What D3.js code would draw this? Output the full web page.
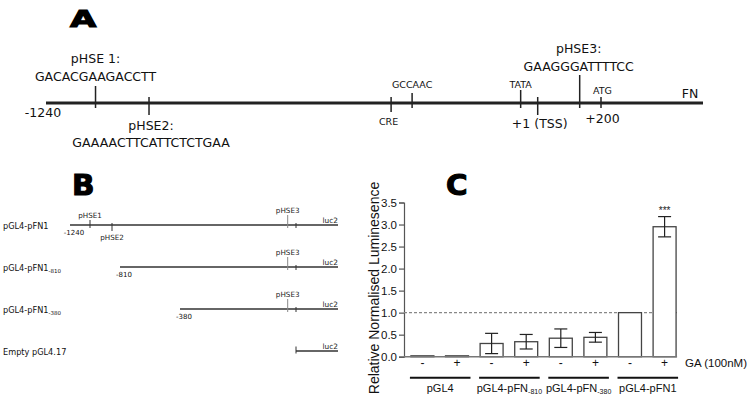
<!DOCTYPE html>
<html><head><meta charset="utf-8">
<script src="https://cdn.jsdelivr.net/npm/d3@7"></script>
<style>body{margin:0;background:#fff} svg{display:block}</style>
</head><body>
<svg id="fig" width="750" height="402"></svg>
<script>
// ---------------- Panel A data (bp relative to TSS) ----------------
const promoterStart = -1240;
const promoterEnd = 520;
const elementNames = ["pHSE1","pHSE2","CRE","GCCAAC","TATA","TSS","pHSE3","ATG"];
const elementPositions = [-1115, -980, -369, -316, -42, 1, 133, 200];
const elementLabelsAbove = [["pHSE 1:","GACACGAAGACCTT"], [], [], ["GCCAAC"], ["TATA"], [], ["pHSE3:","GAAGGGATTTTCC"], ["ATG"]];
const elementLabelsBelow = [[], ["pHSE2:","GAAAACTTCATTCTCTGAA"], ["CRE"], [], [], ["+1 (TSS)"], [], ["+200"]];

// ---------------- Panel B data ----------------
const constructNames = ["pGL4-pFN1","pGL4-pFN1","pGL4-pFN1","Empty pGL4.17"];
const constructSubscripts = ["", "-810", "-380", ""];
const constructStarts = [-1240, -810, -380, 200];
const constructStartLabels = ["-1240","-810","-380",""];
const hseNames = ["pHSE1","pHSE2","pHSE3"];
const hsePositions = [-1115, -980, 133];
const junctionPosition = 200;
const luc2End = 330;

// ---------------- Panel C data ----------------
const cGroups = ["pGL4","pGL4-pFN-810","pGL4-pFN-380","pGL4-pFN1"];
const gaTreatment = ["-","+"];
const meanLum = [0.02, 0.02, 0.30, 0.34, 0.42, 0.44, 1.00, 2.95];
const semLum  = [0, 0, 0.23, 0.165, 0.21, 0.11, 0, 0.23];
const yTicks = [0, 0.5, 1.0, 1.5, 2.0, 2.5, 3.0, 3.5];
const referenceLevel = 1.0;

const svg = d3.select("#fig");
const SANS = "DejaVu Sans";
const ARIAL = "Liberation Sans, Arial, sans-serif";

// Panel letters
function panelLetter(txt, x, y, size, sx) {
  svg.append("text").attr("transform", `translate(${x},${y}) scale(${sx},1)`)
    .attr("font-family", SANS).attr("font-weight", "bold").attr("font-size", size)
    .attr("stroke", "#000").attr("stroke-width", 1.1).attr("fill", "#000").text(txt);
}
panelLetter("A", 70, 27, 23, 1.48);
panelLetter("B", 72, 195, 29, 1.02);
panelLetter("C", 446, 195, 28, 1.05);

// ================= Panel A =================
const ax = d3.scaleLinear().domain([promoterStart, 1, 200, promoterEnd]).range([46, 537.7, 601, 703]);
const lineY = 103;
const aStyle = {
  pHSE1:  {up:17, down:5,  fa:12.5, aAbove:[-40,-22], dx:0},
  pHSE2:  {up:6,  down:12, fb:12.5, aBelow:[27,44], dx:2},
  CRE:    {up:6,  down:9,  fb:9.5,  aBelow:[22], dx:-2.5},
  GCCAAC: {up:10, down:5,  fa:9.5,  aAbove:[-15], dx:0},
  TATA:   {up:13, down:5,  fa:9.5,  aAbove:[-15], dx:0},
  TSS:    {up:6,  down:12, fb:12.5, aBelow:[25], dx:2},
  pHSE3:  {up:28, down:5,  fa:12.5, aAbove:[-50,-32], dx:-1},
  ATG:    {up:6,  down:5,  fa:9.5,  fb:12.5, aAbove:[-9], aBelow:[20], dx:1.5}
};
const gA = svg.append("g");
gA.append("line").attr("x1", ax(promoterStart)).attr("x2", ax(promoterEnd))
  .attr("y1", lineY).attr("y2", lineY).attr("stroke", "#222").attr("stroke-width", 3);
elementNames.forEach((n, i) => {
  const s = aStyle[n], x = ax(elementPositions[i]);
  gA.append("line").attr("x1", x).attr("x2", x).attr("y1", lineY - s.up).attr("y2", lineY + s.down)
    .attr("stroke", "#222").attr("stroke-width", 1.5);
  elementLabelsAbove[i].forEach((t, k) => {
    gA.append("text").attr("x", x + s.dx).attr("y", lineY + s.aAbove[k]).attr("text-anchor", "middle")
      .attr("font-family", SANS).attr("font-size", s.fa).attr("fill", "#111").text(t);
  });
  elementLabelsBelow[i].forEach((t, k) => {
    gA.append("text").attr("x", x + s.dx).attr("y", lineY + s.aBelow[k]).attr("text-anchor", "middle")
      .attr("font-family", SANS).attr("font-size", s.fb).attr("fill", "#111").text(t);
  });
});
gA.append("text").attr("x", ax(promoterStart) - 3).attr("y", 117).attr("text-anchor", "middle")
  .attr("font-family", SANS).attr("font-size", 12.5).attr("fill", "#111").text(String(promoterStart));
gA.append("text").attr("x", 690).attr("y", 98).attr("text-anchor", "middle")
  .attr("font-family", SANS).attr("font-size", 12.5).attr("fill", "#111").text("FN");

// ================= Panel B =================
const bx = d3.scaleLinear()
  .domain([-1240, hsePositions[0], hsePositions[1], -810, -380, hsePositions[2], junctionPosition, luc2End])
  .range([70, 90, 112, 120, 180, 287.7, 296, 338]);
const by = d3.scalePoint().domain(d3.range(constructNames.length)).range([225, 351]);
const gB = svg.append("g").attr("font-family", SANS);
constructNames.forEach((name, i) => {
  const y = by(i);
  const lab = gB.append("text").attr("x", 3).attr("y", y + 4).attr("font-size", 8.2).attr("fill", "#111").text(name);
  if (constructSubscripts[i]) {
    lab.append("tspan").attr("font-size", 5.5).attr("dy", 2).text(constructSubscripts[i]);
  }
  const x0 = bx(constructStarts[i]), x1 = bx(luc2End);
  gB.append("line").attr("x1", x0).attr("x2", x1).attr("y1", y).attr("y2", y)
    .attr("stroke", "#333").attr("stroke-width", 1.3);
  if (constructStartLabels[i]) {
    gB.append("text").attr("x", x0 + 4).attr("y", y + 9.5).attr("text-anchor", "middle")
      .attr("font-size", 7).attr("fill", "#111").text(constructStartLabels[i]);
  }
  hseNames.forEach((h, k) => {
    const p = hsePositions[k];
    if (p < constructStarts[i]) return;
    const hx = bx(p);
    if (h === "pHSE1") {
      gB.append("line").attr("x1", hx).attr("x2", hx).attr("y1", y - 5).attr("y2", y + 3).attr("stroke", "#333").attr("stroke-width", 1);
      gB.append("text").attr("x", hx).attr("y", y - 7).attr("text-anchor", "middle").attr("font-size", 7.2).attr("fill", "#222").text(h);
    } else if (h === "pHSE2") {
      gB.append("line").attr("x1", hx).attr("x2", hx).attr("y1", y - 2).attr("y2", y + 6).attr("stroke", "#333").attr("stroke-width", 1);
      gB.append("text").attr("x", hx).attr("y", y + 15).attr("text-anchor", "middle").attr("font-size", 7.2).attr("fill", "#222").text(h);
    } else {
      gB.append("line").attr("x1", hx).attr("x2", hx).attr("y1", y - 10).attr("y2", y + 3).attr("stroke", "#888").attr("stroke-width", 1);
      gB.append("text").attr("x", hx).attr("y", y - 12).attr("text-anchor", "middle").attr("font-size", 7.2).attr("fill", "#222").text(h);
    }
  });
  const jx = bx(junctionPosition);
  const isEmpty = constructStarts[i] >= junctionPosition;
  gB.append("line").attr("x1", jx).attr("x2", jx).attr("y1", y - (isEmpty ? 4.5 : 2)).attr("y2", y + (isEmpty ? 2.5 : 3))
    .attr("stroke", "#333").attr("stroke-width", 1);
  gB.append("text").attr("x", x1).attr("y", y - 2).attr("text-anchor", "end")
    .attr("font-size", 7.4).attr("fill", "#222").text("luc2");
});

// ================= Panel C =================
const barKeys = d3.range(meanLum.length);
const xc = d3.scaleBand().domain(barKeys).range([404, 683]).paddingInner(0.336).paddingOuter(0.2);
const yc = d3.scaleLinear().domain([0, 3.5]).range([356.7, 202.5]);
const gC = svg.append("g").attr("font-family", ARIAL);
const axisX = 404;
const yAxis = gC.append("g").attr("transform", `translate(${axisX},0)`)
  .call(d3.axisLeft(yc).tickValues(yTicks).tickFormat(d3.format(".1f")).tickSize(5).tickPadding(2));
yAxis.select(".domain").attr("stroke", "#555").attr("stroke-width", 1.2);
yAxis.selectAll(".tick line").attr("stroke", "#555").attr("stroke-width", 1.2);
yAxis.selectAll(".tick text").attr("font-family", ARIAL).attr("font-size", 11.5).attr("fill", "#111");

const xEnd = xc(barKeys[barKeys.length - 1]) + xc.bandwidth() + 1;
gC.append("line").attr("x1", axisX).attr("x2", xEnd).attr("y1", yc(referenceLevel)).attr("y2", yc(referenceLevel))
  .attr("stroke", "#888").attr("stroke-width", 1.2).attr("stroke-dasharray", "3,2");
gC.selectAll("rect.bar").data(barKeys).join("rect").attr("class", "bar")
  .attr("x", d => xc(d)).attr("width", xc.bandwidth())
  .attr("y", d => yc(meanLum[d])).attr("height", d => yc(0) - yc(meanLum[d]))
  .attr("fill", "#fff").attr("stroke", "#444").attr("stroke-width", 1.3);
gC.append("line").attr("x1", axisX).attr("x2", xEnd).attr("y1", yc(0)).attr("y2", yc(0))
  .attr("stroke", "#777").attr("stroke-width", 1.4);
barKeys.filter(d => semLum[d] > 0).forEach(d => {
  const cx = xc(d) + xc.bandwidth() / 2, hi = yc(meanLum[d] + semLum[d]), lo = yc(meanLum[d] - semLum[d]);
  const g = gC.append("g").attr("stroke", "#222").attr("stroke-width", 1.2);
  g.append("line").attr("x1", cx).attr("x2", cx).attr("y1", hi).attr("y2", lo);
  g.append("line").attr("x1", cx - 6.5).attr("x2", cx + 6.5).attr("y1", hi).attr("y2", hi);
  g.append("line").attr("x1", cx - 6.5).attr("x2", cx + 6.5).attr("y1", lo).attr("y2", lo);
});
{
  const d = barKeys[barKeys.length - 1];
  gC.append("text").attr("x", xc(d) + xc.bandwidth() / 2).attr("y", yc(meanLum[d] + semLum[d]) - 3)
    .attr("text-anchor", "middle").attr("font-size", 10).attr("fill", "#222").text("***");
}
barKeys.forEach(d => {
  gC.append("text").attr("x", xc(d) + xc.bandwidth() / 2).attr("y", 367).attr("text-anchor", "middle")
    .attr("font-size", 12).attr("fill", "#111").text(gaTreatment[d % 2]);
});
gC.append("text").attr("x", 685).attr("y", 367).attr("font-size", 11.5).attr("fill", "#111").text("GA (100nM)");
cGroups.forEach((grp, gi) => {
  const a = xc(gi * 2) - 1, b = xc(gi * 2 + 1) + xc.bandwidth() + 2;
  gC.append("line").attr("x1", a).attr("x2", b).attr("y1", 377.7).attr("y2", 377.7)
    .attr("stroke", "#111").attr("stroke-width", 2);
  const t = gC.append("text").attr("x", (a + b) / 2).attr("y", 391.7).attr("text-anchor", "middle")
    .attr("font-size", 11).attr("fill", "#111");
  const m = grp.match(/^(.*pFN)(-\d+)$/);
  if (m) {
    t.append("tspan").text(m[1]);
    t.append("tspan").attr("font-size", 7).attr("dy", 2.5).text(m[2]);
  } else t.text(grp);
});
gC.append("text").attr("transform", "translate(379,288) rotate(-90)").attr("text-anchor", "middle")
  .attr("font-size", 14).attr("fill", "#111").text("Relative Normalised Luminesence");
</script>
</body></html>
